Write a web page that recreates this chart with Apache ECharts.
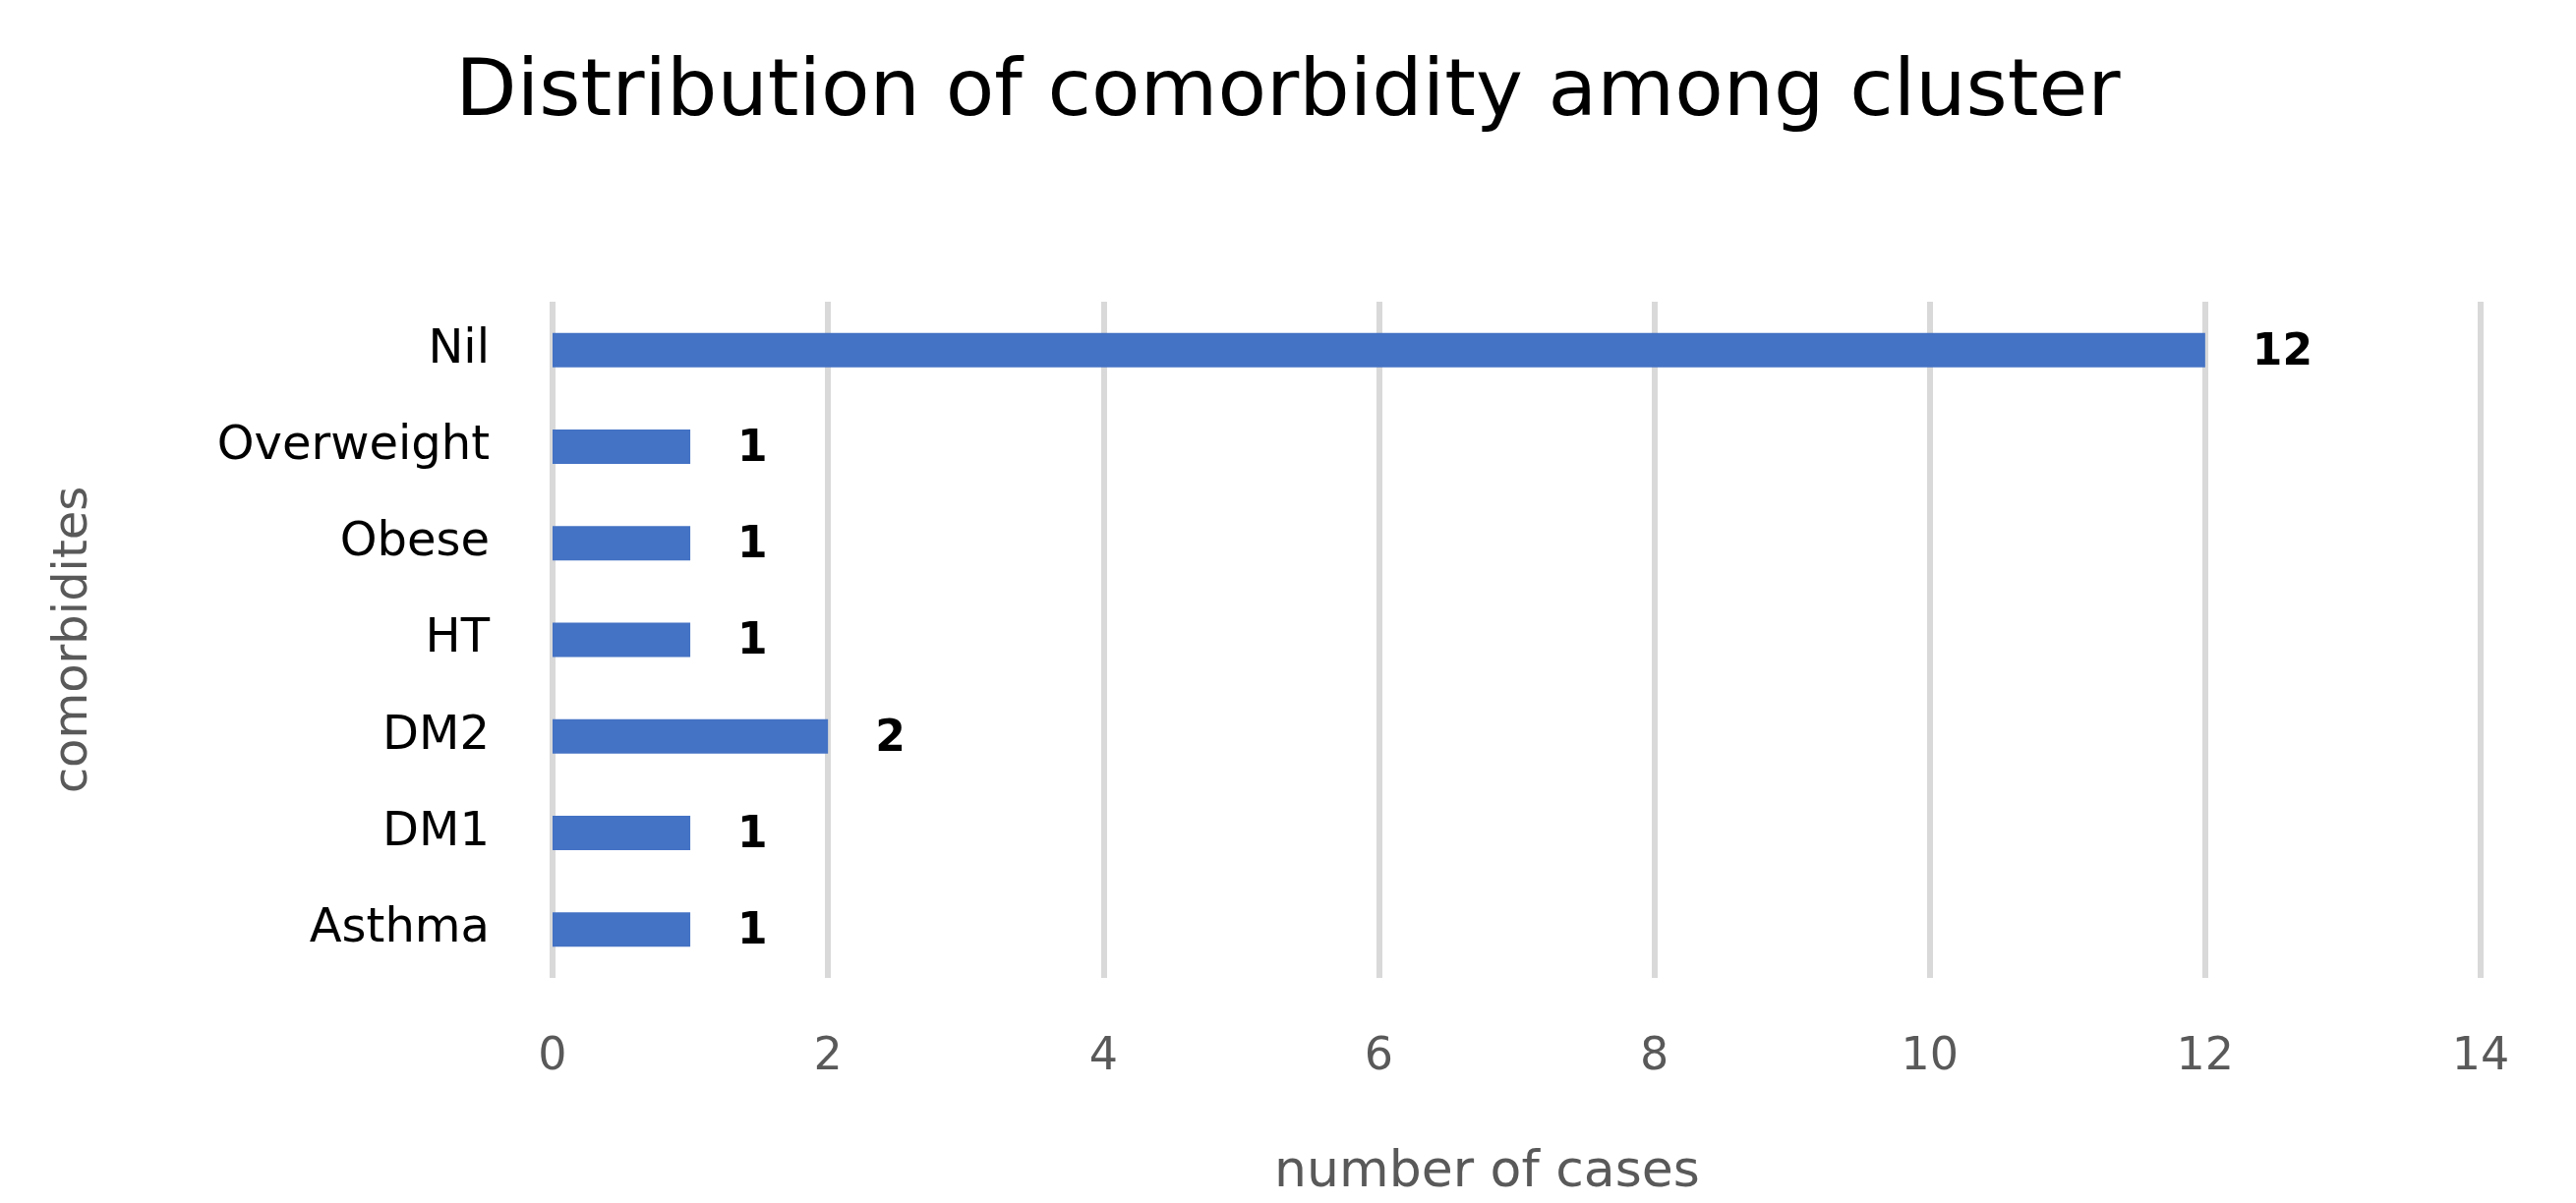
<!DOCTYPE html>
<html><head><meta charset="utf-8">
<script src="https://cdn.jsdelivr.net/npm/echarts@6/dist/echarts.min.js"></script>
<style>html,body{margin:0;padding:0;background:#fff}#c{width:2620px;height:1224px}</style>
</head><body><div id="c"></div>
<script>
const categories = ['Asthma', 'DM1', 'DM2', 'HT', 'Obese', 'Overweight', 'Nil'];
const cases = [1, 1, 2, 1, 1, 1, 12];
const xTicks = [0, 2, 4, 6, 8, 10, 12, 14];

const F = 'DejaVu Sans';
const chart = echarts.init(document.getElementById('c'), null, {renderer: 'canvas'});
chart.setOption({
  animation: false,
  backgroundColor: '#ffffff',
  title: {
    text: 'Distribution of comorbidity among cluster',
    left: 'center',
    top: 50,
    textStyle: {fontFamily: F, fontSize: 81, fontWeight: 'normal', color: '#000000'}
  },
  grid: {left: 562, right: 97, top: 307, bottom: 220, containLabel: false},
  xAxis: {
    type: 'value', min: 0, max: 14, interval: 2,
    name: 'number of cases', nameLocation: 'middle', nameGap: 172,
    nameTextStyle: {fontFamily: F, fontSize: 52, color: '#595959', padding: [0, 60, 0, 0]},
    axisLine: {show: false}, axisTick: {show: false},
    axisLabel: {fontFamily: F, fontSize: 46, color: '#595959', margin: 58,
      formatter: v => xTicks.includes(v) ? String(v) : ''},
    splitLine: {show: true, lineStyle: {color: '#d9d9d9', width: 6}}
  },
  yAxis: {
    type: 'category', data: categories,
    name: 'comorbidites', nameLocation: 'middle', nameGap: 462, nameRotate: 90,
    nameTextStyle: {fontFamily: F, fontSize: 48, color: '#595959'},
    axisLine: {show: false}, axisTick: {show: false},
    axisLabel: {fontFamily: F, fontSize: 48, color: '#000000', margin: 64}
  },
  series: [{
    type: 'bar', data: cases, barWidth: 35,
    itemStyle: {color: '#4472C4'},
    label: {show: true, position: 'right', distance: 48, offset: [0, 3], fontFamily: F, fontSize: 44,
      fontWeight: 'bold', color: '#000000'}
  }]
});
</script></body></html>
